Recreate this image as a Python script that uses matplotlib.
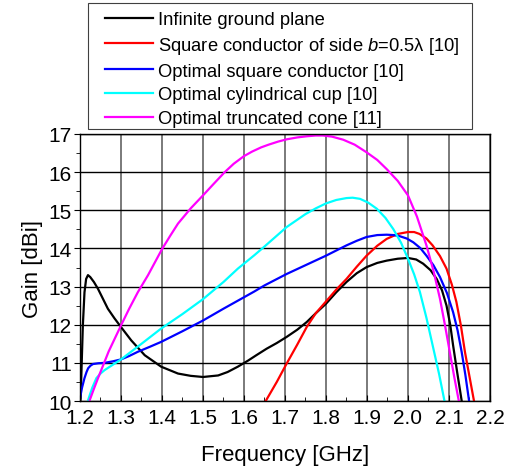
import numpy as np
import matplotlib
matplotlib.use("Agg")
import matplotlib.pyplot as plt
from matplotlib.ticker import MultipleLocator
from matplotlib.patches import Rectangle

plt.rcParams['font.family'] = ['Liberation Sans', 'DejaVu Sans']
plt.rcParams['mathtext.fontset'] = 'custom'
plt.rcParams['mathtext.rm'] = 'Liberation Sans'
plt.rcParams['mathtext.it'] = 'Liberation Sans:italic'

# Infinite ground plane
f_inf = [1.2, 1.2016, 1.207, 1.211, 1.215, 1.2195, 1.225, 1.234, 1.244, 1.256, 1.268, 1.284, 1.3,
         1.325, 1.358, 1.398, 1.439, 1.47, 1.5, 1.537, 1.56, 1.585, 1.61, 1.63, 1.655, 1.68, 1.704,
         1.73, 1.753, 1.775, 1.80, 1.825, 1.85, 1.875, 1.899, 1.925, 1.948, 1.975, 2.0, 2.02, 2.037,
         2.055, 2.07, 2.083, 2.094, 2.103, 2.11, 2.12, 2.131]
g_inf = [9.9, 10.07, 11.98, 12.85, 13.2, 13.30, 13.25, 13.12, 12.94, 12.68, 12.42, 12.17, 11.94,
         11.59, 11.2, 10.9, 10.72, 10.66, 10.63, 10.67, 10.76, 10.9, 11.06, 11.2, 11.37, 11.52, 11.68,
         11.87, 12.07, 12.3, 12.55, 12.85, 13.12, 13.35, 13.51, 13.62, 13.68, 13.73, 13.75, 13.71, 13.6,
         13.43, 13.2, 12.9, 12.5, 12.0, 11.46, 10.75, 10.0]

# Square conductor b=0.5 lambda
f_sq = [1.653, 1.68, 1.704, 1.73, 1.753, 1.775, 1.80, 1.825, 1.85, 1.875, 1.899, 1.925, 1.948,
        1.975, 2.0, 2.015, 2.028, 2.045, 2.06, 2.078, 2.094, 2.107, 2.118, 2.129, 2.139, 2.15, 2.161]
g_sq = [10.0, 10.5, 10.98, 11.48, 11.94, 12.3, 12.61, 12.92, 13.2, 13.52, 13.81, 14.07, 14.25,
        14.38, 14.43, 14.43, 14.38, 14.26, 14.08, 13.8, 13.47, 13.05, 12.6, 11.98, 11.28, 10.64, 10.0]

# Optimal square conductor
f_opt = [1.2, 1.205, 1.211, 1.216, 1.22, 1.226, 1.232, 1.245, 1.26, 1.28, 1.3, 1.32, 1.341, 1.37,
         1.398, 1.45, 1.5, 1.55, 1.585, 1.625, 1.65, 1.704, 1.75, 1.80, 1.85, 1.875, 1.899, 1.925,
         1.948, 1.965, 1.98, 1.997, 2.013, 2.03, 2.045, 2.062, 2.078, 2.095, 2.11, 2.121, 2.131,
         2.14, 2.149]
g_opt = [10.07, 10.35, 10.6, 10.76, 10.86, 10.93, 10.97, 10.99, 11.0, 11.04, 11.09, 11.18, 11.29, 11.42,
         11.55, 11.83, 12.11, 12.42, 12.63, 12.87, 13.03, 13.33, 13.56, 13.81, 14.08, 14.2, 14.3, 14.35,
         14.36, 14.35, 14.32, 14.26, 14.16, 14.01, 13.81, 13.56, 13.25, 12.83, 12.33, 11.85, 11.28,
         10.68, 10.0]

# Optimal cylindrical cup
f_cyl = [1.22, 1.23, 1.24, 1.25, 1.26, 1.28, 1.3, 1.35, 1.398, 1.45, 1.5, 1.55, 1.585, 1.625,
         1.65, 1.704, 1.75, 1.775, 1.80, 1.825, 1.85, 1.865, 1.883, 1.903, 1.924, 1.945, 1.964,
         1.983, 2.0, 2.015, 2.029, 2.045, 2.062, 2.076, 2.089]
g_cyl = [10.03, 10.35, 10.6, 10.72, 10.81, 10.95, 11.09, 11.5, 11.9, 12.28, 12.67, 13.12, 13.47,
         13.82, 14.05, 14.56, 14.9, 15.05, 15.18, 15.27, 15.32, 15.33, 15.3, 15.2, 15.04, 14.8, 14.51,
         14.15, 13.73, 13.32, 12.86, 12.18, 11.37, 10.7, 10.0]

# Optimal truncated cone
f_cone = [1.224, 1.234, 1.244, 1.27, 1.3, 1.32, 1.341, 1.366, 1.382, 1.4, 1.42, 1.439, 1.47, 1.5,
          1.525, 1.553, 1.575, 1.6, 1.62, 1.642, 1.66, 1.683, 1.704, 1.73, 1.753, 1.775, 1.793,
          1.815, 1.842, 1.87, 1.899, 1.925, 1.948, 1.975, 2.0, 2.022, 2.045, 2.062, 2.078, 2.09,
          2.102, 2.113, 2.124]
g_cone = [10.03, 10.32, 10.6, 11.3, 11.98, 12.42, 12.85, 13.3, 13.62, 13.98, 14.33, 14.65, 15.05, 15.39,
          15.68, 16.0, 16.22, 16.42, 16.54, 16.65, 16.72, 16.8, 16.86, 16.91, 16.94, 16.96, 16.96,
          16.93, 16.85, 16.72, 16.52, 16.32, 16.08, 15.77, 15.39, 14.83, 14.08, 13.42, 12.68, 12.0,
          11.28, 10.62, 10.0]

labels = ['Infinite ground plane',
          'Square conductor of side $\\it{b}$=0.5\u03bb [10]',
          'Optimal square conductor [10]',
          'Optimal cylindrical cup [10]',
          'Optimal truncated cone [11]']

fig = plt.figure(figsize=(5.2, 4.77), dpi=100)
ax = fig.add_axes([0.1538, 0.1572, 0.7885, 0.5598])

ax.plot(f_inf, g_inf, color='black', lw=1.6, label=labels[0])
ax.plot(f_sq, g_sq, color='red', lw=1.6, label=labels[1])
ax.plot(f_opt, g_opt, color='blue', lw=1.6, label=labels[2])
ax.plot(f_cyl, g_cyl, color='cyan', lw=1.6, label=labels[3])
ax.plot(f_cone, g_cone, color='magenta', lw=1.6, label=labels[4])

ax.set_xlim(1.2, 2.2)
ax.set_ylim(10, 17)
ax.xaxis.set_minor_locator(MultipleLocator(0.05))
ax.yaxis.set_major_locator(MultipleLocator(1))
ax.yaxis.set_minor_locator(MultipleLocator(0.5))
xt = np.arange(1.2, 2.21, 0.1)
ax.set_xticks(xt)
ax.set_xticklabels(['%.1f' % v for v in xt])
ax.grid(axis='x', which='major', color='#707070', lw=1.3)
ax.grid(axis='y', which='major', color='black', lw=1.0)
ax.tick_params(axis='x', which='minor', direction='in', length=3)
ax.tick_params(axis='x', which='major', direction='in', length=4, pad=5)
ax.tick_params(axis='y', which='minor', direction='out', length=3)
ax.tick_params(axis='y', which='major', direction='out', length=4, pad=2)
ax.tick_params(labelsize=15)
for s in ax.spines.values():
    s.set_linewidth(1.0)

ax.set_xlabel('Frequency [GHz]', fontsize=16, labelpad=12)
ax.set_ylabel('Gain [dBi]', fontsize=16, labelpad=4)

# legend frame drawn separately (box sits above the axes)
W, H = 520.0, 477.0
fig.patches.append(Rectangle((88 / W, 1 - 130 / H), (472 - 88) / W, (130 - 4) / H,
                             transform=fig.transFigure, fill=True, facecolor='white',
                             edgecolor='#404040', lw=0.8, zorder=0))
leg = fig.legend(loc='upper left', bbox_to_anchor=(105 / W, 1 - 12 / H),
                 fontsize=13.2, handlelength=2.6, handletextpad=0.3, labelspacing=0.37,
                 borderpad=0, borderaxespad=0, frameon=False)

fig.savefig('out.png', dpi=100)
